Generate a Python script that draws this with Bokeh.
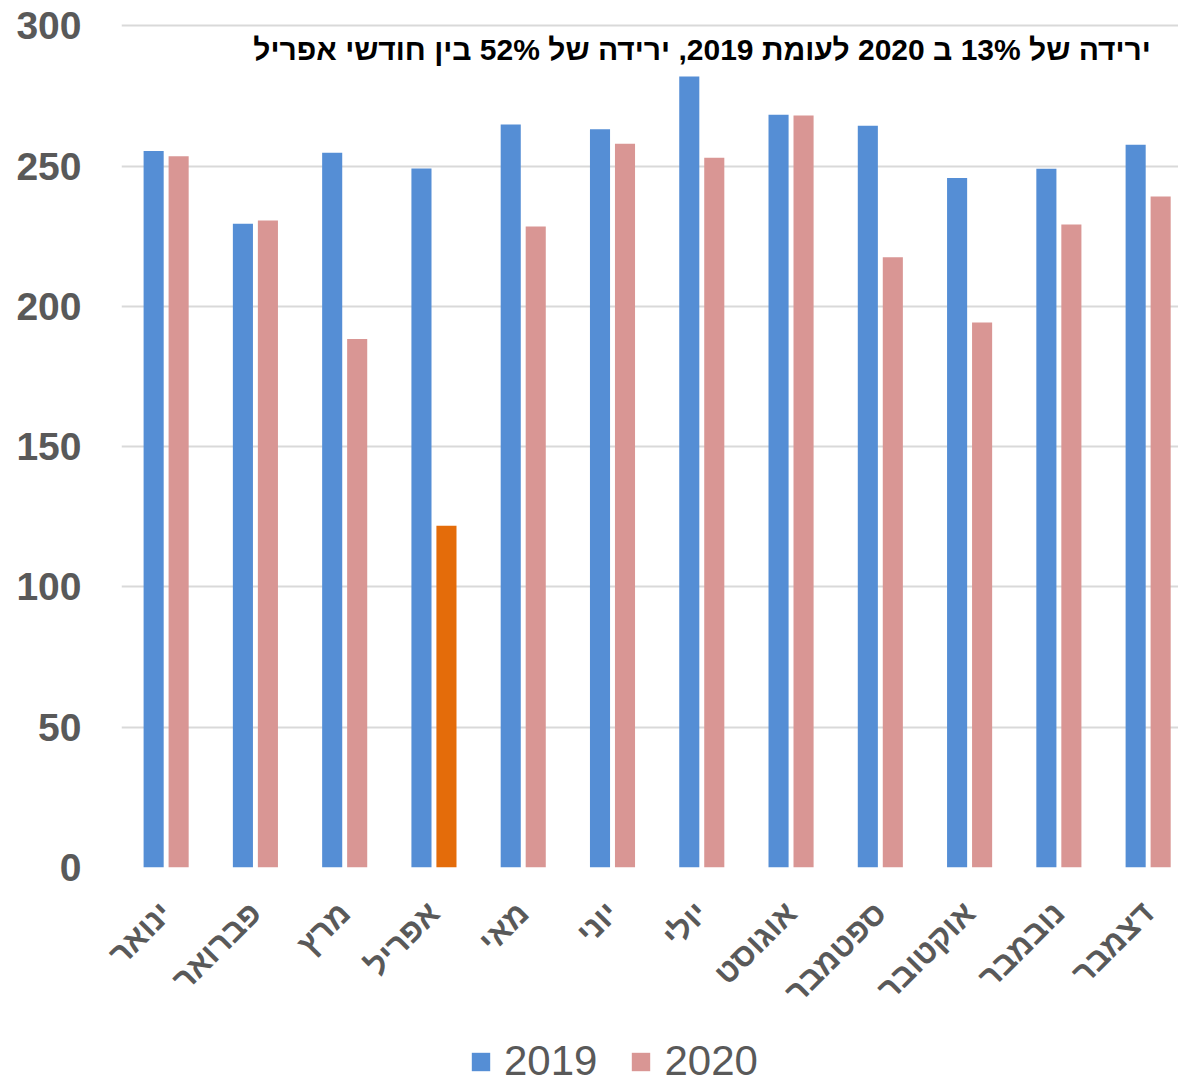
import math
from bokeh.plotting import figure
from bokeh.layouts import column
from bokeh.models import ColumnDataSource, Range1d, FixedTicker, Legend, LegendItem, Label
from bokeh.transform import dodge
from bokeh.embed import file_html
from bokeh.resources import INLINE

months = ["ינואר", "פברואר", "מרץ", "אפריל", "מאי", "יוני", "יולי",
          "אוגוסט", "ספטמבר", "אוקטובר", "נובמבר", "דצמבר"]
values_2019 = [255.4, 229.5, 254.8, 249.2, 264.9, 263.2, 282.0, 268.4, 264.4, 245.8, 249.1, 257.7]
values_2020 = [253.6, 230.7, 188.4, 121.8, 228.5, 258.0, 253.0, 268.1, 217.6, 194.3, 229.2, 239.2]
highlight_month = "אפריל"
y_ticks = [0, 50, 100, 150, 200, 250, 300]
series_names = ["2019", "2020"]
title_text = "ירידה של 13% ב 2020 לעומת 2019, ירידה של 52% בין חודשי אפריל"

BLUE = "#558ED5"
PINK = "#D99694"
ORANGE = "#E46C0A"
GRAY = "#595959"
FONT = "Liberation Sans"

xs = list(range(len(months)))
colors_2020 = [ORANGE if m == highlight_month else PINK for m in months]
source = ColumnDataSource(dict(x=xs, v2019=values_2019, v2020=values_2020, c2020=colors_2020))

p = figure(width=1178, height=1030, output_backend="svg", toolbar_location=None,
           x_range=Range1d(-0.5, 11.34), y_range=Range1d(0, 301.96),
           min_border_left=121, min_border_right=0, min_border_top=20, min_border_bottom=163)
p.outline_line_color = None

p.vbar(x=dodge("x", -0.14), top="v2019", width=0.225, source=source,
       fill_color=BLUE, line_color=None)
p.vbar(x=dodge("x", 0.14), top="v2020", width=0.225, source=source,
       fill_color="c2020", line_color=None)

# axes
p.xaxis.ticker = FixedTicker(ticks=xs)
p.xaxis.major_label_overrides = {i: m for i, m in zip(xs, months)}
p.xaxis.major_label_orientation = math.pi / 4
p.xaxis.major_label_text_font = FONT
p.xaxis.major_label_text_font_style = "bold"
p.xaxis.major_label_text_font_size = "32px"
p.xaxis.major_label_text_color = GRAY
p.xaxis.major_label_standoff = 40
p.xaxis.major_tick_out = 0
p.xaxis.major_tick_in = 0
p.xaxis.axis_line_color = None
p.xaxis.major_tick_line_color = None
p.xaxis.minor_tick_line_color = None

p.yaxis.ticker = FixedTicker(ticks=y_ticks)
p.yaxis.major_label_text_font = FONT
p.yaxis.major_label_text_font_style = "bold"
p.yaxis.major_label_text_font_size = "39px"
p.yaxis.major_label_text_color = GRAY
p.yaxis.major_label_standoff = 40
p.yaxis.major_tick_out = 0
p.yaxis.major_tick_in = 0
p.yaxis.axis_line_color = None
p.yaxis.major_tick_line_color = None
p.yaxis.minor_tick_line_color = None

p.xgrid.grid_line_color = None
p.ygrid.grid_line_color = "#D9D9D9"
p.ygrid.grid_line_width = 2

# title inside plot
p.add_layout(Label(x=11.03, y=291.6, text=title_text, text_align="right",
                   text_baseline="middle", text_font=FONT, text_font_style="bold",
                   text_font_size="30px", text_color="black"))

# legend strip below the chart (its bars lie entirely below its visible y range)
pl = figure(width=1178, height=55, output_backend="svg", toolbar_location=None,
            x_range=Range1d(-0.5, 11.34), y_range=Range1d(1000, 1001),
            x_axis_location=None, y_axis_location=None, min_border=0)
pl.outline_line_color = None
pl.grid.visible = False
d1 = pl.vbar(x="x", top="v2019", width=0.225, source=source, fill_color=BLUE, line_color=None)
d2 = pl.vbar(x="x", top="v2020", width=0.225, source=source, fill_color=PINK, line_color=None)
legend = Legend(items=[LegendItem(label=series_names[0], renderers=[d1]),
                       LegendItem(label=series_names[1], renderers=[d2])],
                orientation="horizontal", location=(348, 0),
                glyph_width=23, glyph_height=23, label_standoff=12, spacing=32,
                padding=0, margin=0, border_line_color=None, background_fill_alpha=0,
                label_text_font=FONT, label_text_font_size="42px", label_text_color=GRAY)
pl.add_layout(legend, "center")

layout = column(p, pl, spacing=0)
open("out.html", "w").write(file_html(layout, INLINE))
